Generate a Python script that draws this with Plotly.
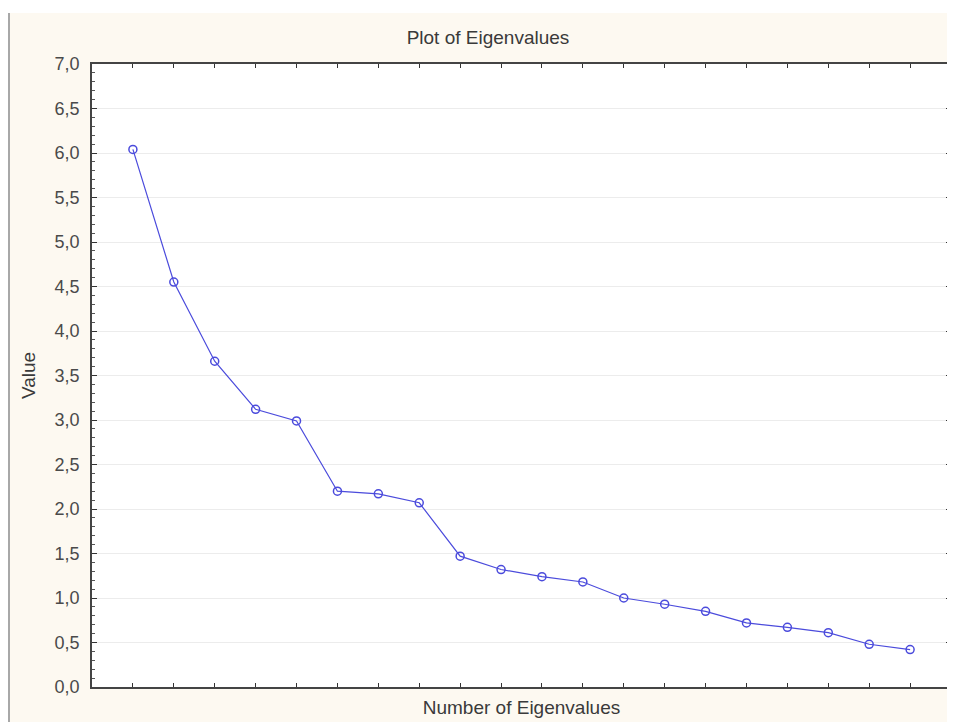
import plotly.graph_objects as go

eigen_number = list(range(1, 21))
eigen_values = [6.04, 4.55, 3.66, 3.12, 2.99, 2.20, 2.17, 2.07, 1.47, 1.32,
                1.24, 1.18, 1.00, 0.93, 0.85, 0.72, 0.67, 0.61, 0.48, 0.42]
y_tick_vals = [0.0, 0.5, 1.0, 1.5, 2.0, 2.5, 3.0, 3.5, 4.0, 4.5, 5.0, 5.5, 6.0, 6.5, 7.0]
y_tick_text = ["0,0", "0,5", "1,0", "1,5", "2,0", "2,5", "3,0", "3,5", "4,0", "4,5",
               "5,0", "5,5", "6,0", "6,5", "7,0"]

# page body has an 8px margin, so the figure sits at (8, 8) on screen
W, H = 947, 719
L, R, T, B = 84, 4, 56, 40
pw, ph = W - L - R, H - T - B

def px(x):
    return (x - L) / pw

def py(y):
    return (H - B - y) / ph

cream = "#fdf9f1"
txt = "#3a3a3a"

fig = go.Figure()
fig.add_trace(go.Scatter(
    x=eigen_number, y=eigen_values, mode="lines+markers",
    line=dict(color="#4b4bdc", width=1.2),
    marker=dict(symbol="circle-open", size=8, color="#4b4bdc", line=dict(width=1.5)),
    showlegend=False,
))

fig.update_layout(
    width=W, height=H,
    margin=dict(l=L, r=R, t=T, b=B),
    paper_bgcolor=cream, plot_bgcolor="white",
    font=dict(family="Liberation Sans, Arial, sans-serif", size=19, color=txt),
    title=dict(text="Plot of Eigenvalues", x=480 / W, xanchor="center",
               y=1 - 29 / H, yanchor="middle", font=dict(size=19, color=txt)),
    xaxis=dict(range=[0, 21], tickvals=eigen_number, showticklabels=False,
               ticks="inside", ticklen=4, tickcolor="#333", showgrid=False,
               showline=True, linecolor="#444", linewidth=1.5, mirror="ticks",
               zeroline=False, automargin=False,
               title=dict(text="Number of Eigenvalues", standoff=13, font=dict(size=19))),
    yaxis=dict(range=[0, 7], tickvals=y_tick_vals, ticktext=y_tick_text,
               ticks="inside", ticklen=5, tickcolor="#333",
               showgrid=True, gridcolor="#ececec", gridwidth=1,
               showline=True, linecolor="#444", linewidth=1.5, mirror="ticks",
               zeroline=False, automargin=False, ticklabelstandoff=7,
               tickfont=dict(size=18, color="#4a4a4a"),
               minor=dict(ticks="inside", dtick=0.1, ticklen=3, tickcolor="#555",
                          showgrid=False),
               title=dict(text="Value", standoff=14, font=dict(size=19))),
)

# white band above the cream panel and the grey left border
fig.add_shape(type="rect", xref="paper", yref="paper", x0=px(0), x1=px(W),
              y0=py(5), y1=py(0), fillcolor="white", line=dict(width=0), layer="below")
fig.add_shape(type="rect", xref="paper", yref="paper", x0=px(0), x1=px(W),
              y0=py(H), y1=py(714), fillcolor="white", line=dict(width=0), layer="below")
fig.add_shape(type="line", xref="paper", yref="paper", x0=px(1), x1=px(1),
              y0=py(714), y1=py(5), line=dict(color="#a8a8a8", width=2))

fig.write_html("out.html")
